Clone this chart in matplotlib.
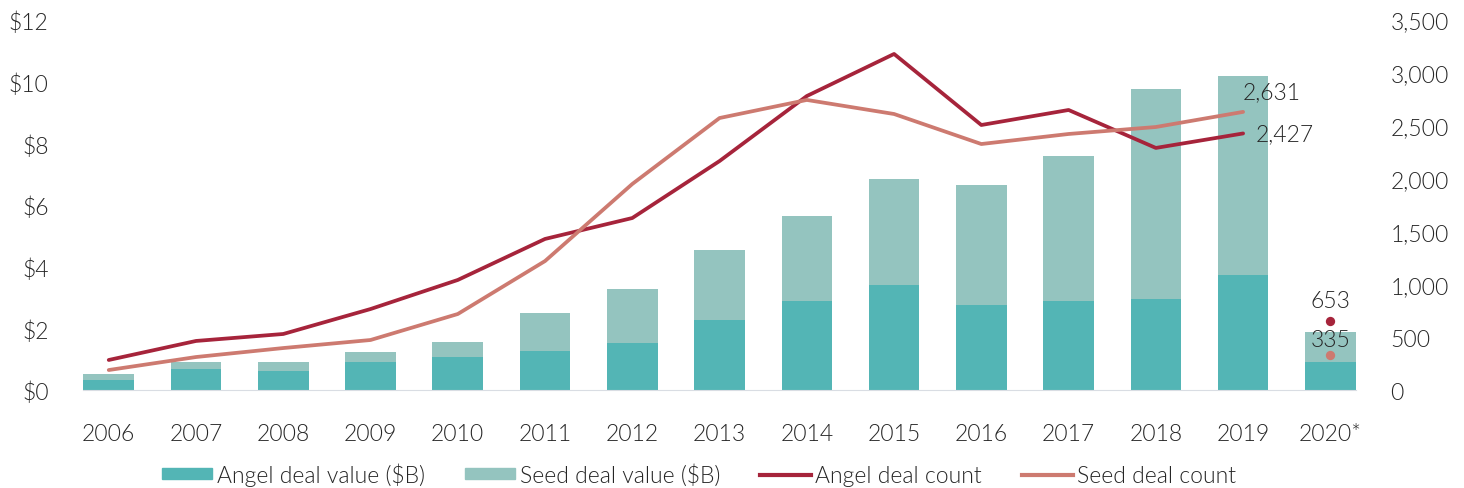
import matplotlib
matplotlib.use("Agg")
import matplotlib.pyplot as plt
import numpy as np
from matplotlib.lines import Line2D
from matplotlib.patches import Patch

years = ["2006", "2007", "2008", "2009", "2010", "2011", "2012", "2013",
         "2014", "2015", "2016", "2017", "2018", "2019", "2020*"]
angel_value = [0.32, 0.68, 0.62, 0.91, 1.07, 1.27, 1.52, 2.27, 2.89, 3.41,
               2.76, 2.89, 2.95, 3.73, 0.91]
seed_value = [0.20, 0.23, 0.29, 0.32, 0.49, 1.23, 1.76, 2.27, 2.75, 3.43,
              3.89, 4.70, 6.81, 6.45, 0.97]
angel_count = [284, 464, 530, 766, 1041, 1429, 1627, 2166, 2781, 3179,
               2507, 2649, 2290, 2427]
seed_count = [189, 312, 397, 473, 719, 1220, 1949, 2573, 2744, 2611,
              2327, 2422, 2488, 2631]
angel_count_2020 = 653
seed_count_2020 = 335

c_angel_v = "#53b5b5"
c_seed_v = "#94c4bf"
c_angel_c = "#a6243b"
c_seed_c = "#cd7a70"
txt = "#262626"
fs = 16.5
fw = 300

plt.rcParams['font.family'] = ['Lato', 'DejaVu Sans']
fig = plt.figure(figsize=(14.64, 4.89), dpi=100)
ax = fig.add_axes([0.057, 0.2004, 0.869, 0.7566])
ax2 = ax.twinx()

x = np.arange(len(years))
w = 0.58
ax.bar(x, angel_value, w, color=c_angel_v, zorder=2)
ax.bar(x, seed_value, w, bottom=angel_value, color=c_seed_v, zorder=2)
ax.set_ylim(0, 12)
ax.set_yticks(range(0, 13, 2))
ax.set_yticklabels([f"${v}" for v in range(0, 13, 2)])
ax.set_xlim(-0.29, len(years) - 1 + 0.29)
ax.set_xticks(x)
ax.set_xticklabels(years)

xc = x[:len(angel_count)]
ax2.plot(xc, angel_count, color=c_angel_c, lw=2.7, solid_capstyle='round', zorder=3)
ax2.plot(xc, seed_count, color=c_seed_c, lw=2.7, solid_capstyle='round', zorder=3)
ax2.scatter([x[-1]], [angel_count_2020], s=45, color=c_angel_c, zorder=4, linewidths=0)
ax2.scatter([x[-1]], [seed_count_2020], s=45, color=c_seed_c, zorder=4, linewidths=0)
ax2.set_ylim(0, 3500)
ax2.set_yticks(range(0, 3501, 500))
ax2.set_yticklabels([f"{v:,}" for v in range(0, 3501, 500)])

ax2.text(xc[-1], seed_count[-1] + 90, f"{seed_count[-1]:,}", fontsize=fs,
         color=txt, ha='left', va='bottom', fontweight=fw)
ax2.text(xc[-1] + 0.14, angel_count[-1], f"{angel_count[-1]:,}", fontsize=fs,
         color=txt, ha='left', va='center', fontweight=fw)
ax2.text(x[-1], angel_count_2020 + 90, f"{angel_count_2020:,}", fontsize=fs,
         color=txt, ha='center', va='bottom', fontweight=fw)
ax2.text(x[-1], seed_count_2020 + 45, f"{seed_count_2020:,}", fontsize=fs,
         color=txt, ha='center', va='bottom', fontweight=fw)

for a in (ax, ax2):
    for s in a.spines.values():
        s.set_visible(False)
    a.tick_params(length=0, labelsize=fs, labelcolor=txt)
    for lab in a.get_xticklabels() + a.get_yticklabels():
        lab.set_fontweight(fw)
ax.spines['bottom'].set_visible(True)
ax.spines['bottom'].set_color('#d9dde3')
ax.tick_params(axis='x', pad=24)
ax.tick_params(axis='y', pad=25)
ax2.tick_params(axis='y', pad=25)

handles = [Patch(color=c_angel_v), Patch(color=c_seed_v),
           Line2D([], [], color=c_angel_c, lw=3),
           Line2D([], [], color=c_seed_c, lw=3)]
labels = ["Angel deal value ($B)", "Seed deal value ($B)",
          "Angel deal count", "Seed deal count"]
leg = fig.legend(handles, labels, loc='center', bbox_to_anchor=(0.4775, 0.028),
                 ncol=4, frameon=False, fontsize=fs, handlelength=2.2,
                 handleheight=0.38, handletextpad=0.2, columnspacing=1.75)
for t in leg.get_texts():
    t.set_color(txt)
    t.set_fontweight(fw)

fig.savefig("out.png", dpi=100)
